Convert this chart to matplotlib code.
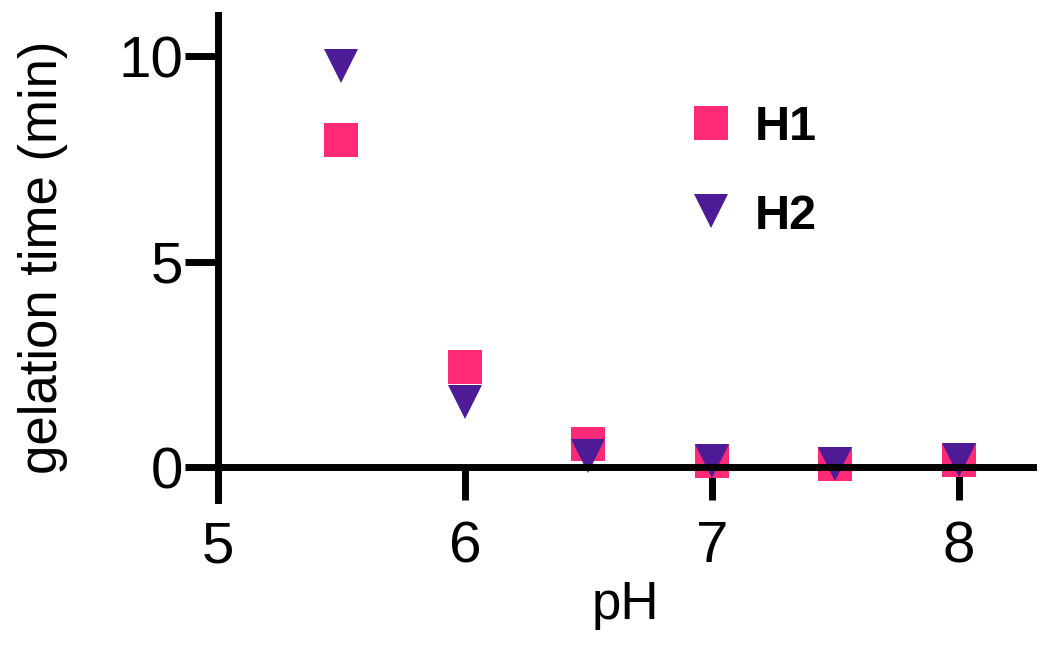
import matplotlib.pyplot as plt

plt.rcParams['font.family'] = ['Liberation Sans', 'DejaVu Sans']

# pH values and gelation times
ph = [5.5, 6.0, 6.5, 7.0, 7.5, 8.0]
h1_time = [7.95, 2.45, 0.57, 0.15, 0.07, 0.18]
h2_time = [9.75, 1.6, 0.27, 0.15, 0.08, 0.18]

xticks = [5, 6, 7, 8]
yticks = [0, 5, 10]

pink = "#fe2a78"
purple = "#4d1b95"

fig = plt.figure(figsize=(10.5, 6.48), dpi=100)
ax = fig.add_axes([0.2076, 0.228, 0.776, 0.749])

ax.plot(ph, h1_time, linestyle="none", marker="s", markersize=24,
        color=pink, markeredgewidth=0, label="H1", clip_on=False)
ax.plot(ph, h2_time, linestyle="none", marker="v", markersize=24,
        color=purple, markeredgewidth=0, label="H2", clip_on=False)

ax.set_xlim(5, 8.3)
ax.set_ylim(-0.8, 11)

# axis styling
for side in ["top", "right"]:
    ax.spines[side].set_visible(False)
ax.spines["bottom"].set_position(("data", 0))
for side in ["left", "bottom"]:
    ax.spines[side].set_linewidth(5)

ax.set_xticks(xticks)
ax.set_yticks(yticks)
ax.tick_params(axis="both", direction="out", length=24, width=5,
               labelsize=42)
ax.tick_params(axis="x", pad=14)
ax.tick_params(axis="y", pad=1)

ax.set_xlabel("pH", fontsize=38, labelpad=4)
ax.set_ylabel("gelation time (min)", fontsize=38, labelpad=36)

leg = ax.legend(loc="upper left", bbox_to_anchor=(0.525, 0.905), frameon=False,
                prop={"weight": "bold", "size": 35}, handlelength=0.9,
                handletextpad=0.45, labelspacing=0.9, numpoints=1)

plt.savefig("out.png", dpi=100)
